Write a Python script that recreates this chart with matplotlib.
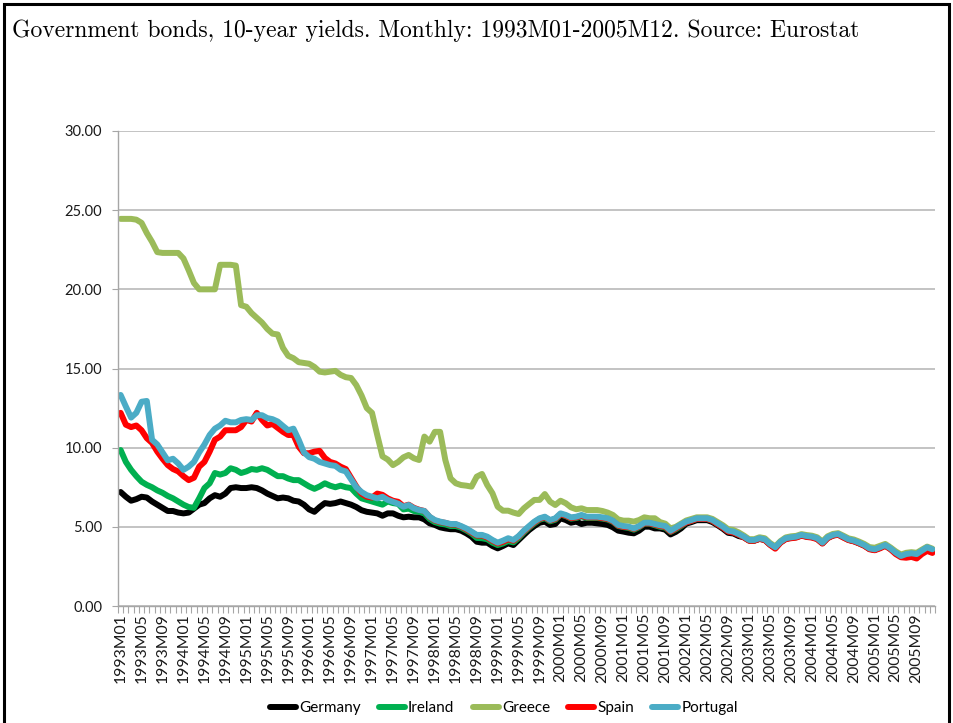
import matplotlib
matplotlib.use("Agg")
import matplotlib.pyplot as plt
import matplotlib.patches as mpatches
import numpy as np

years = list(range(1993, 2006))
months = [f"{y}M{m:02d}" for y in years for m in range(1, 13)]

germany = [
    7.20, 6.90, 6.65, 6.75, 6.90, 6.85, 6.60, 6.40, 6.20, 6.00, 6.00, 5.90,
    5.85, 5.90, 6.15, 6.40, 6.50, 6.80, 7.00, 6.90, 7.10, 7.45, 7.50, 7.45,
    7.45, 7.50, 7.45, 7.30, 7.10, 6.95, 6.80, 6.85, 6.80, 6.65, 6.60, 6.40,
    6.10, 5.95, 6.25, 6.50, 6.45, 6.50, 6.60, 6.50, 6.40, 6.25, 6.05, 5.95,
    5.90, 5.85, 5.70, 5.85, 5.85, 5.70, 5.60, 5.64, 5.60, 5.60, 5.47, 5.22,
    5.12, 4.97, 4.90, 4.85, 4.85, 4.76, 4.59, 4.38, 4.06, 4.00, 4.00, 3.79,
    3.64, 3.79, 3.96, 3.85, 4.17, 4.49, 4.80, 5.05, 5.26, 5.33, 5.12, 5.18,
    5.54, 5.43, 5.26, 5.33, 5.18, 5.26, 5.26, 5.22, 5.18, 5.12, 4.97, 4.76,
    4.70, 4.63, 4.59, 4.76, 5.01, 5.01, 4.90, 4.90, 4.82, 4.52, 4.68, 4.90,
    5.20, 5.30, 5.42, 5.42, 5.42, 5.30, 5.10, 4.88, 4.62, 4.58, 4.42, 4.34,
    4.14, 4.13, 4.24, 4.18, 3.89, 3.68, 4.03, 4.25, 4.31, 4.35, 4.46, 4.39,
    4.35, 4.25, 3.97, 4.31, 4.46, 4.52, 4.35, 4.18, 4.10, 3.97, 3.82, 3.61,
    3.55, 3.68, 3.82, 3.61, 3.35, 3.15, 3.26, 3.31, 3.25, 3.46, 3.67, 3.55,
]

ireland = [
    9.85, 9.10, 8.60, 8.20, 7.85, 7.65, 7.50, 7.30, 7.15, 6.95, 6.80, 6.60,
    6.40, 6.25, 6.20, 6.80, 7.45, 7.75, 8.40, 8.30, 8.40, 8.70, 8.60, 8.40,
    8.50, 8.65, 8.60, 8.70, 8.60, 8.40, 8.20, 8.20, 8.05, 7.95, 7.95, 7.75,
    7.55, 7.40, 7.55, 7.75, 7.60, 7.50, 7.60, 7.50, 7.45, 7.10, 6.80, 6.70,
    6.60, 6.50, 6.40, 6.60, 6.50, 6.45, 6.10, 6.15, 6.00, 5.95, 5.85, 5.50,
    5.30, 5.20, 5.15, 5.05, 5.05, 4.95, 4.78, 4.58, 4.30, 4.28, 4.22, 4.00,
    3.85, 3.95, 4.10, 4.02, 4.30, 4.65, 4.95, 5.22, 5.45, 5.55, 5.35, 5.45,
    5.78, 5.68, 5.52, 5.56, 5.66, 5.56, 5.56, 5.56, 5.52, 5.46, 5.32, 5.05,
    4.98, 4.93, 4.82, 4.98, 5.20, 5.20, 5.10, 5.00, 4.95, 4.68, 4.85, 5.05,
    5.28, 5.38, 5.50, 5.50, 5.50, 5.38, 5.17, 4.96, 4.72, 4.66, 4.51, 4.35,
    4.14, 4.14, 4.25, 4.18, 3.89, 3.68, 4.03, 4.25, 4.31, 4.35, 4.46, 4.39,
    4.35, 4.25, 3.97, 4.31, 4.46, 4.52, 4.35, 4.18, 4.10, 3.97, 3.82, 3.61,
    3.55, 3.68, 3.82, 3.61, 3.34, 3.13, 3.25, 3.30, 3.25, 3.47, 3.68, 3.55,
]

greece = [
    24.45, 24.45, 24.45, 24.40, 24.20, 23.55, 23.00, 22.35, 22.30, 22.30, 22.30, 22.30,
    21.95, 21.20, 20.40, 20.00, 20.00, 20.00, 20.00, 21.55, 21.55, 21.55, 21.50, 19.00,
    18.90, 18.50, 18.20, 17.90, 17.50, 17.20, 17.15, 16.30, 15.80, 15.65, 15.40, 15.35,
    15.30, 15.10, 14.80, 14.75, 14.80, 14.85, 14.60, 14.45, 14.40, 13.95, 13.30, 12.50,
    12.20, 10.80, 9.45, 9.25, 8.90, 9.10, 9.39, 9.54, 9.33, 9.22, 10.70, 10.38,
    11.00, 11.00, 9.22, 8.06, 7.75, 7.64, 7.60, 7.54, 8.17, 8.34, 7.64, 7.12,
    6.27, 6.02, 6.02, 5.90, 5.81, 6.17, 6.44, 6.70, 6.70, 7.07, 6.59, 6.38,
    6.65, 6.49, 6.23, 6.11, 6.17, 6.06, 6.06, 6.06, 6.00, 5.90, 5.75, 5.47,
    5.39, 5.39, 5.33, 5.43, 5.60, 5.54, 5.54, 5.30, 5.20, 4.90, 5.00, 5.20,
    5.40, 5.50, 5.60, 5.60, 5.60, 5.50, 5.30, 5.10, 4.85, 4.80, 4.65, 4.45,
    4.22, 4.22, 4.34, 4.28, 3.98, 3.76, 4.10, 4.33, 4.40, 4.43, 4.54, 4.48,
    4.44, 4.34, 4.07, 4.40, 4.55, 4.60, 4.44, 4.27, 4.20, 4.07, 3.92, 3.72,
    3.68, 3.80, 3.92, 3.70, 3.45, 3.25, 3.36, 3.40, 3.36, 3.56, 3.75, 3.62,
]

spain = [
    12.20, 11.45, 11.30, 11.40, 11.10, 10.60, 10.30, 9.75, 9.30, 8.90, 8.65, 8.50,
    8.20, 7.95, 8.10, 8.80, 9.10, 9.75, 10.50, 10.70, 11.10, 11.10, 11.10, 11.30,
    11.75, 11.65, 12.20, 11.75, 11.40, 11.50, 11.25, 11.00, 10.80, 10.80, 10.06, 9.65,
    9.65, 9.75, 9.80, 9.35, 9.10, 9.00, 8.80, 8.65, 8.10, 7.55, 7.10, 6.90,
    6.85, 7.10, 7.02, 6.80, 6.65, 6.58, 6.30, 6.40, 6.20, 6.08, 6.00, 5.62,
    5.40, 5.30, 5.25, 5.15, 5.15, 5.02, 4.85, 4.65, 4.45, 4.45, 4.33, 4.12,
    3.95, 4.05, 4.22, 4.12, 4.38, 4.72, 5.00, 5.28, 5.50, 5.60, 5.40, 5.50,
    5.80, 5.70, 5.55, 5.60, 5.70, 5.60, 5.60, 5.60, 5.55, 5.50, 5.35, 5.08,
    5.00, 4.97, 4.87, 5.02, 5.22, 5.22, 5.14, 5.05, 5.00, 4.70, 4.90, 5.10,
    5.28, 5.38, 5.50, 5.50, 5.50, 5.38, 5.16, 4.95, 4.70, 4.64, 4.50, 4.33,
    4.12, 4.12, 4.24, 4.16, 3.86, 3.62, 4.00, 4.22, 4.28, 4.32, 4.44, 4.36,
    4.32, 4.22, 3.94, 4.28, 4.44, 4.50, 4.32, 4.16, 4.08, 3.95, 3.80, 3.58,
    3.52, 3.64, 3.80, 3.58, 3.28, 3.08, 3.05, 3.10, 3.00, 3.28, 3.48, 3.35,
]

portugal = [
    13.33, 12.60, 11.90, 12.20, 12.90, 12.95, 10.50, 10.20, 9.70, 9.20, 9.30, 9.00,
    8.60, 8.80, 9.10, 9.70, 10.20, 10.80, 11.20, 11.40, 11.70, 11.60, 11.60, 11.75,
    11.80, 11.75, 12.05, 12.05, 11.87, 11.80, 11.65, 11.37, 11.10, 11.20, 10.50, 9.70,
    9.40, 9.30, 9.10, 9.00, 8.90, 8.85, 8.60, 8.50, 8.00, 7.50, 7.20, 7.00,
    6.90, 6.80, 6.90, 6.70, 6.58, 6.46, 6.27, 6.38, 6.17, 6.06, 6.00, 5.64,
    5.43, 5.33, 5.26, 5.18, 5.18, 5.05, 4.90, 4.70, 4.49, 4.49, 4.38, 4.17,
    4.00, 4.13, 4.28, 4.17, 4.42, 4.76, 5.05, 5.33, 5.54, 5.64, 5.43, 5.54,
    5.85, 5.75, 5.60, 5.64, 5.75, 5.64, 5.64, 5.64, 5.60, 5.54, 5.39, 5.12,
    5.05, 5.01, 4.90, 5.05, 5.26, 5.26, 5.18, 5.10, 5.05, 4.75, 4.95, 5.15,
    5.33, 5.43, 5.54, 5.54, 5.54, 5.43, 5.22, 5.01, 4.76, 4.70, 4.55, 4.38,
    4.17, 4.17, 4.28, 4.21, 3.92, 3.71, 4.06, 4.28, 4.34, 4.38, 4.49, 4.42,
    4.38, 4.28, 4.00, 4.34, 4.49, 4.55, 4.38, 4.21, 4.13, 4.00, 3.85, 3.64,
    3.58, 3.71, 3.85, 3.64, 3.37, 3.16, 3.28, 3.33, 3.28, 3.50, 3.71, 3.58,
]

series_names = ["Germany", "Ireland", "Greece", "Spain", "Portugal"]
series_values = [germany, ireland, greece, spain, portugal]
colors = ["#000000", "#00B050", "#9BBB59", "#FF0000", "#4BACC6"]
title = "Government bonds, 10-year yields. Monthly: 1993M01-2005M12. Source: Eurostat"
yticks = [0, 5, 10, 15, 20, 25, 30]

W, H = 954, 723
fig = plt.figure(figsize=(W / 100, H / 100), dpi=100)
fig.patch.set_facecolor("white")
ax = fig.add_axes([118 / W, 1 - 606 / H, (935 - 118) / W, (606 - 131) / H])

x = np.arange(len(months))
handles = []
for name, vals, c in zip(series_names, series_values, colors):
    (ln,) = ax.plot(x, vals, color=c, lw=4.3, solid_joinstyle="round",
                    solid_capstyle="round", label=name)
    handles.append(ln)

ax.set_xlim(-0.5, len(months) - 0.5)
ax.set_ylim(0, 30)
ax.set_yticks(yticks)
ax.set_yticklabels([f"{v:.2f}" for v in yticks])
ax.yaxis.grid(True, color="#BEBEBE", lw=1.3)
ax.set_axisbelow(True)

major = list(range(0, len(months), 4))
ax.set_xticks(major)
ax.set_xticklabels([months[i] for i in major], rotation=90)
ax.set_xticks(np.arange(-0.5, len(months), 1), minor=True)
ax.tick_params(axis="x", which="major", length=0, pad=5)
ax.tick_params(axis="x", which="minor", length=5, color="#A6A6A6", width=0.8)
ax.tick_params(axis="y", length=4.5, color="#A6A6A6", width=0.8, pad=7)

for lab in ax.get_xticklabels():
    lab.set_fontfamily("Lato")
    lab.set_fontsize(11.3)
    lab.set_color("#1a1a1a")
for lab in ax.get_yticklabels():
    lab.set_fontfamily("Lato")
    lab.set_fontsize(10.5)
    lab.set_color("#1a1a1a")

for s in ["top", "right"]:
    ax.spines[s].set_visible(False)
for s in ["left", "bottom"]:
    ax.spines[s].set_color("#A6A6A6")
    ax.spines[s].set_linewidth(1.0)

leg = fig.legend(handles=handles, labels=series_names, loc="center",
                 bbox_to_anchor=(504 / W, 1 - 708 / H), ncol=5, frameon=False,
                 handlelength=1.7, handletextpad=0.2, columnspacing=1.2,
                 prop={"family": "Lato", "size": 11})

fig.text(12 / W, 1 - 31 / H, title, fontfamily="cmr10", fontsize=17,
         ha="left", va="center")

rect = mpatches.Rectangle((4 / W, -0.05), (949 - 4) / W, 1 - 4 / H + 0.05,
                          transform=fig.transFigure, fill=False,
                          edgecolor="black", lw=2.2)
fig.patches.append(rect)

fig.savefig("out.png", dpi=100)
